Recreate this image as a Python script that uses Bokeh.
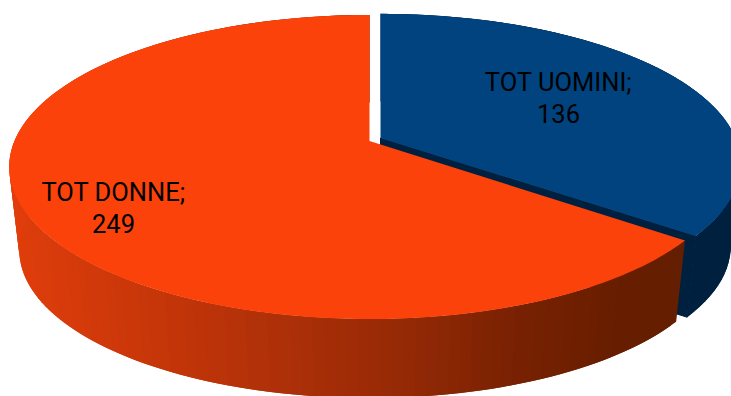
import numpy as np
from bokeh.core.properties import value
from bokeh.embed import file_html
from bokeh.models import ColumnDataSource
from bokeh.plotting import figure
from bokeh.resources import INLINE

categories = ["TOT UOMINI", "TOT DONNE"]
totals = [136, 249]

W, H = 731, 396
TOP_BLUE, TOP_ORANGE = "#00437F", "#FB420A"
WALL_BLUE = "#00203F"

# Projection of the tilted disc: flat pie coordinates to screen pixels
HALF_W, HALF_H, PERSPECTIVE = 355.0, 147.6, 0.171
BASE_SCALE, BASE_DROP = 0.972, 84.0
CENTER_ORANGE = (369.0, 140.5)
CENTER_BLUE = (380.0, 137.5)
SQUASH_BLUE = 0.985


def project(theta, center, squash=1.0):
    u = np.sin(theta)
    v = -np.cos(theta)
    d = 1 - PERSPECTIVE * v
    return center[0] + HALF_W * u / d, center[1] + squash * HALF_H * v / d


def drop(x, y, center):
    return center[0] + BASE_SCALE * (x - center[0]), center[1] + BASE_DROP + BASE_SCALE * (y - center[1])


def top_face(t0, t1, center, squash=1.0):
    t = np.linspace(t0, t1, 240)
    x, y = project(t, center, squash)
    return [center[0], *x], [center[1], *y]


def overlapping_strips(t0, t1, center, n, squash=1.0):
    # Each strip runs one step past its end so the next one paints over it and no seam shows
    edges = np.linspace(t0, t1, n + 1)
    xs, ys, mids = [], [], []
    for i in range(n):
        t = np.array([edges[i], edges[min(i + 2, n)]])
        x, y = project(t, center, squash)
        bx, by = drop(x, y, center)
        xs.append([x[0], x[1], bx[1], bx[0]])
        ys.append([y[0], y[1], by[1], by[0]])
        mids.append(float(project((edges[i] + edges[i + 1]) / 2, center, squash)[0]))
    return xs, ys, mids


def shade(x, stops):
    xp = [s[0] for s in stops]
    rgb = [int(np.interp(x, xp, [s[1][i] for s in stops])) for i in range(3)]
    return "#%02x%02x%02x" % tuple(rgb)


split = 2 * np.pi * totals[0] / sum(totals)

p = figure(width=W, height=H, x_range=(0, W), y_range=(H, 0), output_backend="svg",
           toolbar_location=None, min_border=0, outline_line_color=None,
           background_fill_color="white", border_fill_color="white")
p.axis.visible = False
p.grid.visible = False

# Blue slice: the cut wall along its lower radius, then the outer wall
ex, ey = project(split, CENTER_BLUE, SQUASH_BLUE)
ax, ay = drop(CENTER_BLUE[0], CENTER_BLUE[1], CENTER_BLUE)
bx, by = drop(ex, ey, CENTER_BLUE)
p.patch([CENTER_BLUE[0], ex, bx, ax], [CENTER_BLUE[1], ey, by, ay],
        fill_color=WALL_BLUE, line_color=WALL_BLUE, line_width=1)
xs, ys, _ = overlapping_strips(0, split, CENTER_BLUE, 60, SQUASH_BLUE)
p.patches(xs, ys, fill_color=WALL_BLUE, line_color=None)

# Orange slice: shaded outer wall running from dark on the right to bright on the left
orange_stops = [(10, (224, 62, 12)), (120, (205, 56, 10)), (250, (180, 50, 9)),
                (400, (150, 42, 6)), (520, (120, 34, 3)), (620, (104, 30, 0)), (690, (100, 30, 0))]
xs, ys, mids = overlapping_strips(split, 2 * np.pi, CENTER_ORANGE, 150)
colors = [shade(m, orange_stops) for m in mids]
p.patches("xs", "ys", source=ColumnDataSource(dict(xs=xs, ys=ys, c=colors)),
          fill_color="c", line_color=None)

# Top faces
fx, fy = top_face(split, 2 * np.pi, CENTER_ORANGE)
p.patch(fx, fy, fill_color=TOP_ORANGE, line_color=None)
fx, fy = top_face(0, split, CENTER_BLUE, SQUASH_BLUE)
p.patch(fx, fy, fill_color=TOP_BLUE, line_color=None)

# Slice labels
label_x = [558, 113]
label_y = [81, 191]
for name, total, x, y in zip(categories, totals, label_x, label_y):
    for text, yy in ((f"{name};", y), (str(total), y + 32)):
        p.text([x], [yy], text=[text], text_font=value("Roboto"), text_font_size="25.5px",
               text_color="black", text_align="center", text_baseline="middle")

open("out.html", "w").write(file_html(p, INLINE))
